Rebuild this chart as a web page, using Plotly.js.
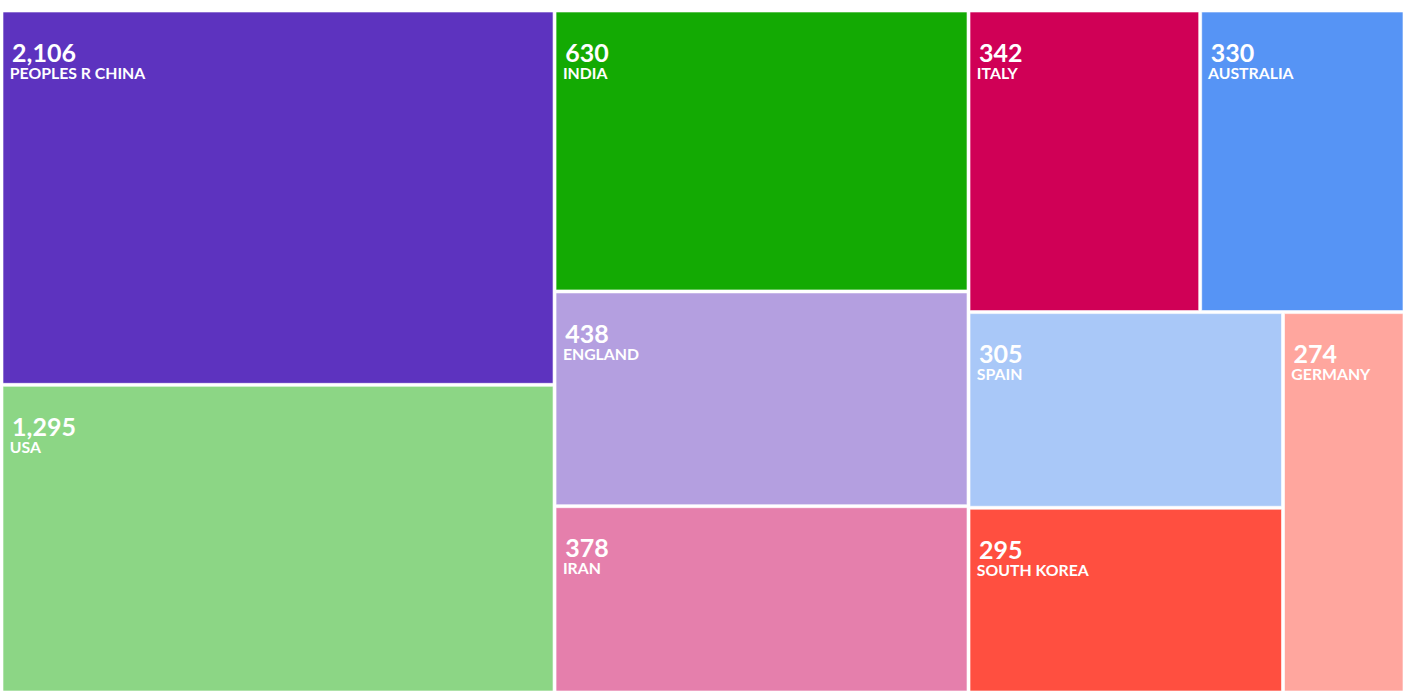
<!DOCTYPE html>
<html>
<head>
<meta charset="utf-8">
<script src="https://cdn.plot.ly/plotly-3.0.1.min.js"></script>
<style>html,body{margin:0;padding:0;background:#fff;}#chart{width:1407px;height:697px;}</style>
</head>
<body>
<div id="chart"></div>
<script>
// Countries and their publication counts (as labelled in the chart)
var countries = ["PEOPLES R CHINA", "USA", "INDIA", "ENGLAND", "IRAN", "ITALY", "AUSTRALIA", "SPAIN", "SOUTH KOREA", "GERMANY"];
var counts = [2106, 1295, 630, 438, 378, 342, 330, 305, 295, 274];
// Relative tile areas (thousands of px²)
var tileAreas = [205.6, 169.0, 115.5, 88.3, 76.6, 69.4, 61.2, 61.1, 57.7, 45.9];
var tileColors = ["#5D33BF", "#8CD685", "#13AA03", "#B49FE0", "#E57FAC", "#D00056", "#5694F5", "#A9C8F8", "#FF4F40", "#FFA69E"];

var parents = countries.map(function () { return ""; });

var trace = {
  type: "treemap",
  labels: countries,
  parents: parents,
  values: tileAreas,
  customdata: counts,
  branchvalues: "remainder",
  sort: true,
  tiling: { packing: "squarify", squarifyratio: 1.618, pad: 3 },
  pathbar: { visible: false },
  marker: {
    colors: tileColors,
    line: { width: 1, color: "rgba(255,255,255,0.6)" },
    pad: { t: 0, l: 0, r: 0, b: 0 }
  },
  textposition: "top left",
  texttemplate: "&nbsp;<br>&nbsp;<br><span style='font-size:25px'>&nbsp;%{customdata:,}</span><br><span style='font-size:15.8px'>&nbsp;%{label}</span>",
  textfont: { family: "Lato, 'Source Sans Pro', sans-serif", size: 13, color: "#ffffff", weight: "bold" },
  hoverinfo: "label+text",
  root: { color: "#ffffff" }
};

var layout = {
  width: 1407,
  height: 697,
  margin: { l: 3, r: 4, t: 12, b: 6 },
  paper_bgcolor: "#ffffff",
  showlegend: false
};

Plotly.newPlot("chart", [trace], layout, { displayModeBar: false, staticPlot: true });
</script>
</body>
</html>
